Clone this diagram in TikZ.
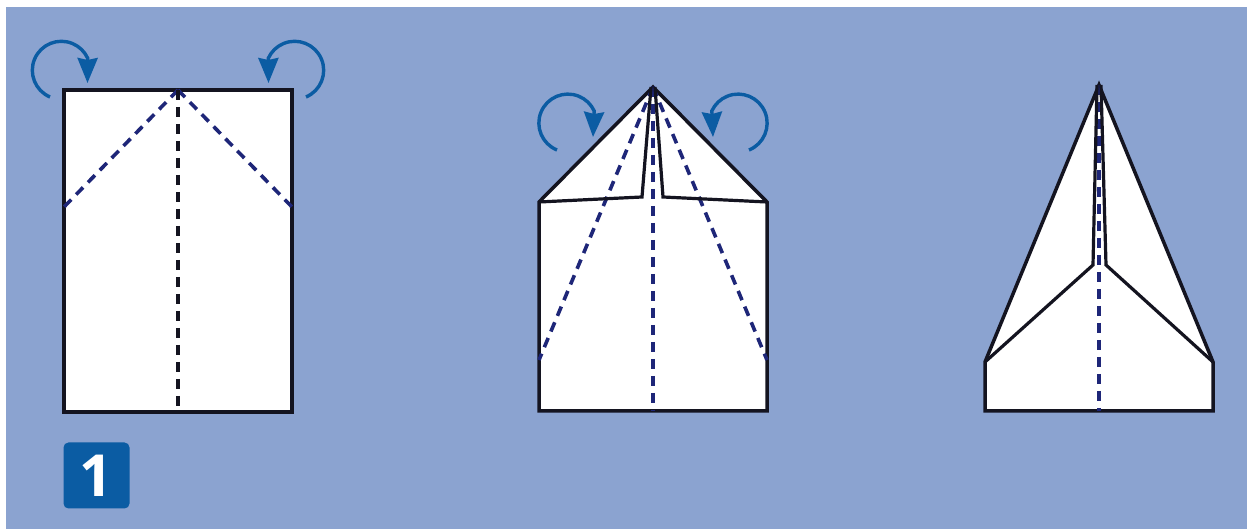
\documentclass[tikz,border=0pt]{standalone}
\usepackage{fontspec}
\setmainfont{Open Sans}
\usetikzlibrary{arrows.meta}
\definecolor{sky}{RGB}{139,163,208}
\definecolor{fold}{RGB}{30,38,120}
\definecolor{ink}{RGB}{20,20,32}
\definecolor{badge}{RGB}{11,92,163}
\tikzset{
    sheet/.style={draw=ink, line width=3.5pt, line join=miter, fill=white},
    edge/.style={draw=ink, line width=3.2pt, line join=miter},
    crease/.style={draw=fold, line width=3.6pt, dash pattern=on 10pt off 7pt},
    creaseblack/.style={crease, draw=ink},
    turn/.style={draw=badge, line width=3.4pt, -{Stealth[length=25pt,width=20pt,inset=2pt]}}
}
\begin{document}
\begin{tikzpicture}[x=1pt, y=1pt]
        \useasboundingbox (0,0) rectangle (1247,529);
        \fill[sky] (6,0) rectangle (1247,522);
        % first sheet
        \draw[sheet] (64,117) rectangle (292,439);
        \draw[crease] (178,439) -- (64,322);
        \draw[crease] (178,439) -- (292,322);
        \draw[creaseblack] (178,439) -- (178,117);
        \draw[turn] (50,432) arc (247:25:29) -- (87.5,446);
        \draw[turn] (306,432) arc (-67:155:29) -- (268.5,446);
        % second sheet
        \draw[sheet] (539,118) -- (539,327) -- (653,442) -- (767,327) -- (767,118) -- cycle;
        \draw[crease] (653,442) -- (539,169);
        \draw[crease] (653,442) -- (767,169);
        \draw[crease] (653,442) -- (653,118);
        \draw[edge] (539,327) -- (642,332) -- (651,442);
        \draw[edge] (767,327) -- (663,332) -- (655,442);
        \draw[turn] (557,379) arc (248:25:29) -- (593,392);
        \draw[turn] (749,379) arc (-68:155:29) -- (713,392);
        % third sheet
        \draw[sheet] (985,118) -- (985,167) -- (1099,444) -- (1213,167) -- (1213,118) -- cycle;
        \draw[crease] (1099,444) -- (1099,118);
        \draw[edge] (985,167) -- (1093,264) -- (1097,444);
        \draw[edge] (1213,167) -- (1106,264) -- (1101,444);
        % step number
        \node[fill=badge, rounded corners=5pt, minimum size=66pt, inner sep=0pt, text=white, font=\fontsize{58}{58}\selectfont\bfseries] (stepone) at (96.5,53.5) {1};
    \end{tikzpicture}
\end{document}
